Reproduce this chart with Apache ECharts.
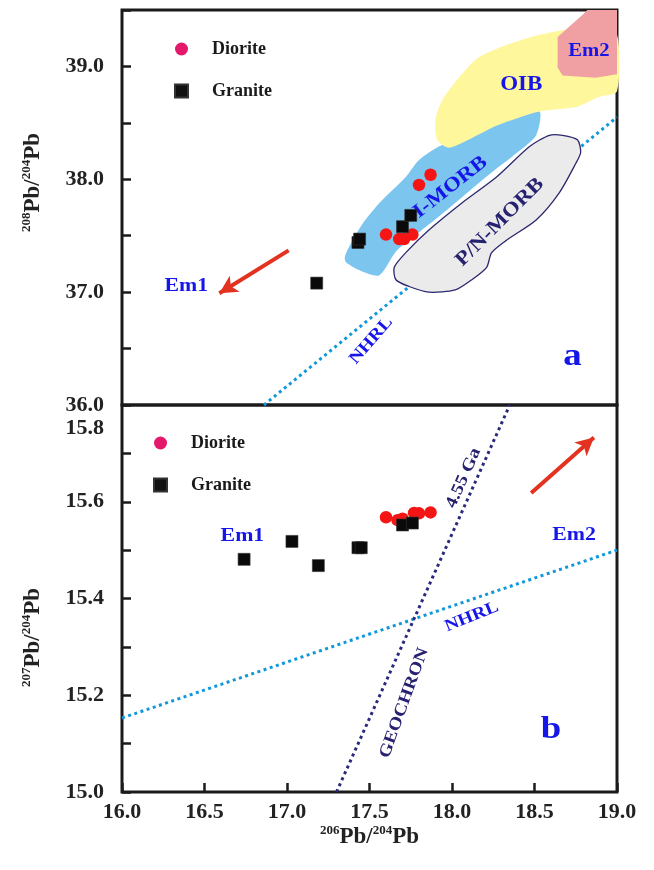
<!DOCTYPE html>
<html>
<head>
<meta charset="utf-8">
<script src="https://cdn.jsdelivr.net/npm/echarts/dist/echarts.min.js"></script>
<style>
  html, body { margin: 0; padding: 0; background: #ffffff; }
  #chart { width: 654px; height: 870px; }
</style>
</head>
<body>
<div id="chart"></div>
<script>
// Pb isotope diagrams: (a) 208Pb/204Pb and (b) 207Pb/204Pb against 206Pb/204Pb

const FONT = '"Liberation Serif", "Times New Roman", serif';
const BLUE = '#1616e8';
const NAVY = '#272270';

// ---------- shared x axis ----------
const xRange = [16.0, 19.0];
const xStep = 0.5;

// ---------- panel a: 208Pb/204Pb ----------
const yRangeA = [36.0, 39.5];
const yStepA = 0.5;

const dioriteA = [[17.60, 37.51], [17.68, 37.47], [17.71, 37.47], [17.76, 37.51], [17.80, 37.95], [17.87, 38.04]];
const graniteA = [[17.18, 37.08], [17.43, 37.44], [17.44, 37.47], [17.70, 37.58], [17.75, 37.68]];

const nhrlA = [[16.86, 36.0], [19.0, 38.55]];
const arrowA = [[17.01, 37.37], [16.59, 36.99]];

const fieldIMORB = [[18.53, 38.60], [18.51, 38.39], [18.39, 38.23], [18.24, 38.06], [18.10, 37.89], [17.92, 37.67],
  [17.74, 37.46], [17.66, 37.36], [17.56, 37.15], [17.46, 37.18], [17.36, 37.26], [17.35, 37.31], [17.39, 37.44],
  [17.46, 37.61], [17.56, 37.79], [17.72, 38.02], [17.80, 38.17], [17.92, 38.29], [18.10, 38.39], [18.35, 38.53]];
const fieldOIB = [[18.67, 39.32], [18.41, 39.23], [18.16, 39.08], [18.03, 38.88], [17.94, 38.70], [17.90, 38.53],
  [17.91, 38.35], [17.98, 38.28], [18.10, 38.35], [18.28, 38.48], [18.53, 38.60], [18.75, 38.64], [18.89, 38.73],
  [19.0, 38.78], [19.0, 39.28], [18.89, 39.32]];
const fieldEm2 = [[18.82, 39.5], [19.0, 39.5], [19.0, 38.93], [18.87, 38.90], [18.67, 38.92], [18.64, 38.99],
  [18.64, 39.26], [18.80, 39.47]];
const fieldPNMORB = [[18.67, 38.39], [18.76, 38.35], [18.78, 38.24], [18.75, 38.14], [18.65, 37.88], [18.51, 37.64],
  [18.33, 37.46], [18.24, 37.35], [18.21, 37.22], [18.12, 37.11], [18.02, 37.02], [17.86, 37.00], [17.74, 37.05],
  [17.66, 37.11], [17.65, 37.22], [17.72, 37.35], [17.86, 37.55], [18.06, 37.79], [18.27, 38.02], [18.47, 38.29],
  [18.59, 38.39]];

const notesA = [
  { text: 'Em1', at: [16.39, 37.05], rot: 0, color: BLUE, size: 19 },
  { text: 'OIB', at: [18.42, 38.84], rot: 0, color: BLUE, size: 20 },
  { text: 'Em2', at: [18.83, 39.13], rot: 0, color: BLUE, size: 18 },
  { text: 'I-MORB', at: [17.99, 37.93], rot: 38, color: BLUE, size: 20 },
  { text: 'P/N-MORB', at: [18.29, 37.62], rot: 45, color: NAVY, size: 20 },
  { text: 'NHRL', at: [17.51, 36.57], rot: 49, color: BLUE, size: 17 },
  { text: 'a', at: [18.73, 36.43], rot: 0, color: BLUE, size: 32 }
];

// ---------- panel b: 207Pb/204Pb ----------
const yRangeB = [15.0, 15.8];
const yStepB = 0.1;

const dioriteB = [[17.60, 15.568], [17.67, 15.562], [17.70, 15.565], [17.77, 15.577], [17.80, 15.576], [17.87, 15.578]];
const graniteB = [[16.74, 15.481], [17.03, 15.518], [17.19, 15.468], [17.43, 15.505], [17.45, 15.505], [17.70, 15.552], [17.76, 15.556]];

const nhrlB = [[16.0, 15.153], [19.0, 15.50]];
const geochronB = [[17.30, 15.0], [18.35, 15.8]];
const arrowB = [[18.48, 15.618], [18.86, 15.733]];

const notesB = [
  { text: 'Em1', at: [16.73, 15.529], rot: 0, color: BLUE, size: 19 },
  { text: 'Em2', at: [18.74, 15.531], rot: 0, color: BLUE, size: 19 },
  { text: '4.55 Ga', at: [18.07, 15.649], rot: 66, color: NAVY, size: 17 },
  { text: 'NHRL', at: [18.12, 15.362], rot: 22, color: BLUE, size: 17 },
  { text: 'GEOCHRON', at: [17.71, 15.184], rot: 70, color: NAVY, size: 17 },
  { text: 'b', at: [18.60, 15.128], rot: 0, color: BLUE, size: 32 }
];

// ---------- helpers ----------
const AXIS_COLOR = '#1b1b1b';
const labelFont = { fontFamily: FONT, fontWeight: 'bold', fontSize: 22, color: '#222' };
const supRich = {
  s: { fontFamily: FONT, fontWeight: 'bold', fontSize: 13, color: '#222', verticalAlign: 'top', lineHeight: 26 },
  m: { fontFamily: FONT, fontWeight: 'bold', fontSize: 23, color: '#222', lineHeight: 26 }
};

function fieldSeries(verts, fill, stroke, gi, z, smooth) {
  return {
    type: 'custom', xAxisIndex: gi, yAxisIndex: gi, silent: true, z: z,
    data: [verts[0]],
    renderItem: function (params, api) {
      return {
        type: 'polygon',
        shape: { points: verts.map(p => api.coord(p)), smooth: smooth },
        style: { fill: fill, stroke: stroke || 'none', lineWidth: stroke ? 1.3 : 0 }
      };
    }
  };
}

function noteSeries(items, gi) {
  return {
    type: 'custom', xAxisIndex: gi, yAxisIndex: gi, silent: true, z: 6,
    data: items.map(d => d.at),
    renderItem: function (params, api) {
      const d = items[params.dataIndex];
      const p = api.coord(d.at);
      return {
        type: 'text', x: p[0], y: p[1], rotation: d.rot * Math.PI / 180, scaleX: 1.15,
        style: {
          text: d.text, fill: d.color, fontFamily: FONT, fontWeight: 'bold', fontSize: d.size,
          align: 'center', verticalAlign: 'middle'
        }
      };
    }
  };
}

function guideLine(points, color, gi) {
  return {
    type: 'line', xAxisIndex: gi, yAxisIndex: gi, data: points, symbol: 'none', silent: true, z: 1,
    lineStyle: { color: color, width: 3, type: [3, 3.5] }
  };
}

function arrowSeries(ends, gi) {
  return {
    type: 'line', xAxisIndex: gi, yAxisIndex: gi, data: [], silent: true, z: 7,
    markLine: {
      silent: true, animation: false, symbol: ['none', 'arrow'], symbolSize: [14, 18],
      label: { show: false },
      lineStyle: { color: '#e3321f', width: 4, type: 'solid', opacity: 1 },
      data: [[{ coord: ends[0] }, { coord: ends[1] }]]
    }
  };
}

function pointSeries(name, data, gi) {
  const isDiorite = name === 'Diorite';
  return {
    name: name, type: 'scatter', xAxisIndex: gi, yAxisIndex: gi, z: 10,
    symbol: isDiorite ? 'circle' : 'rect', symbolSize: isDiorite ? 12.5 : 12,
    itemStyle: isDiorite
      ? { color: '#f51515', opacity: 1 }
      : { color: '#0a0a0a', borderColor: '#333333', borderWidth: 0.6, opacity: 1 },
    data: data
  };
}

const legendItems = [
  { name: 'Diorite', icon: 'circle', itemStyle: { color: '#e4196c', opacity: 1 } },
  { name: 'Granite', icon: 'rect', itemStyle: { color: '#111111', opacity: 1 } }
];

function legendAt(left, top) {
  return {
    left: left, top: top, padding: 0, orient: 'vertical', itemGap: 24, itemWidth: 13, itemHeight: 13,
    selectedMode: false, data: legendItems,
    textStyle: { fontFamily: FONT, fontWeight: 'bold', fontSize: 18, color: '#1a1a1a', padding: [0, 0, 0, 19] }
  };
}

const tickStyle = { inside: true, length: 9, lineStyle: { color: AXIS_COLOR, width: 2.5 } };

const option = {
  animation: false,
  backgroundColor: '#ffffff',
  grid: [
    { left: 122, right: 37, top: 10, height: 395, show: true, borderColor: AXIS_COLOR, borderWidth: 3, backgroundColor: 'transparent' },
    { left: 122, right: 37, top: 405, height: 387, show: true, borderColor: AXIS_COLOR, borderWidth: 3, backgroundColor: 'transparent' }
  ],
  legend: [legendAt(174, 40), legendAt(153, 434)],
  xAxis: [
    {
      gridIndex: 0, type: 'value', min: xRange[0], max: xRange[1], interval: xStep,
      axisLine: { show: false }, axisTick: { show: false }, axisLabel: { show: false }, splitLine: { show: false }
    },
    {
      gridIndex: 1, type: 'value', min: xRange[0], max: xRange[1], interval: xStep,
      axisLine: { show: false }, axisTick: tickStyle, splitLine: { show: false },
      axisLabel: Object.assign({ margin: 9, formatter: v => v.toFixed(1) }, labelFont),
      name: '{s|206}{m|Pb/}{s|204}{m|Pb}', nameLocation: 'middle', nameGap: 27,
      nameTextStyle: { rich: supRich }
    }
  ],
  yAxis: [
    {
      gridIndex: 0, type: 'value', min: yRangeA[0], max: yRangeA[1], interval: yStepA,
      axisLine: { show: false }, axisTick: tickStyle, splitLine: { show: false },
      axisLabel: Object.assign({
        margin: 18,
        formatter: v => (Math.abs(v - Math.round(v)) < 1e-6 ? v.toFixed(1) : '')
      }, labelFont),
      name: '{s|208}{m|Pb/}{s|204}{m|Pb}', nameLocation: 'middle', nameRotate: 90, nameGap: 76,
      nameTextStyle: { rich: supRich, padding: [0, 0, 0, 50] }
    },
    {
      gridIndex: 1, type: 'value', min: yRangeB[0], max: yRangeB[1], interval: yStepB,
      axisLine: { show: false }, axisTick: tickStyle, splitLine: { show: false },
      axisLabel: Object.assign({
        margin: 18,
        formatter: function (v) {
          const k = Math.round(v * 10);
          if (k % 2 !== 0) return '';
          const s = (k / 10).toFixed(1);
          return k === Math.round(yRangeB[1] * 10) ? '{low|' + s + '}' : s;
        },
        rich: { low: { padding: [46, 0, 0, 0] } }
      }, labelFont),
      name: '{s|207}{m|Pb/}{s|204}{m|Pb}', nameLocation: 'middle', nameRotate: 90, nameGap: 76,
      nameTextStyle: { rich: supRich, padding: [0, 78, 0, 0] }
    }
  ],
  series: [
    // panel a
    guideLine(nhrlA, '#1198da', 0),
    fieldSeries(fieldIMORB, '#7cc5ee', null, 0, 2, 0.25),
    fieldSeries(fieldOIB, '#fff79c', null, 0, 3, 0.25),
    fieldSeries(fieldEm2, '#f0a0a2', null, 0, 4, 0),
    fieldSeries(fieldPNMORB, '#ebebeb', '#2b286e', 0, 4, 0.25),
    noteSeries(notesA, 0),
    arrowSeries(arrowA, 0),
    pointSeries('Diorite', dioriteA, 0),
    pointSeries('Granite', graniteA, 0),
    // panel b
    guideLine(nhrlB, '#1198da', 1),
    guideLine(geochronB, '#2a2a7c', 1),
    noteSeries(notesB, 1),
    arrowSeries(arrowB, 1),
    pointSeries('Diorite', dioriteB, 1),
    pointSeries('Granite', graniteB, 1)
  ]
};

const chart = echarts.init(document.getElementById('chart'), null, { renderer: 'canvas' });
chart.setOption(option);
</script>
</body>
</html>
